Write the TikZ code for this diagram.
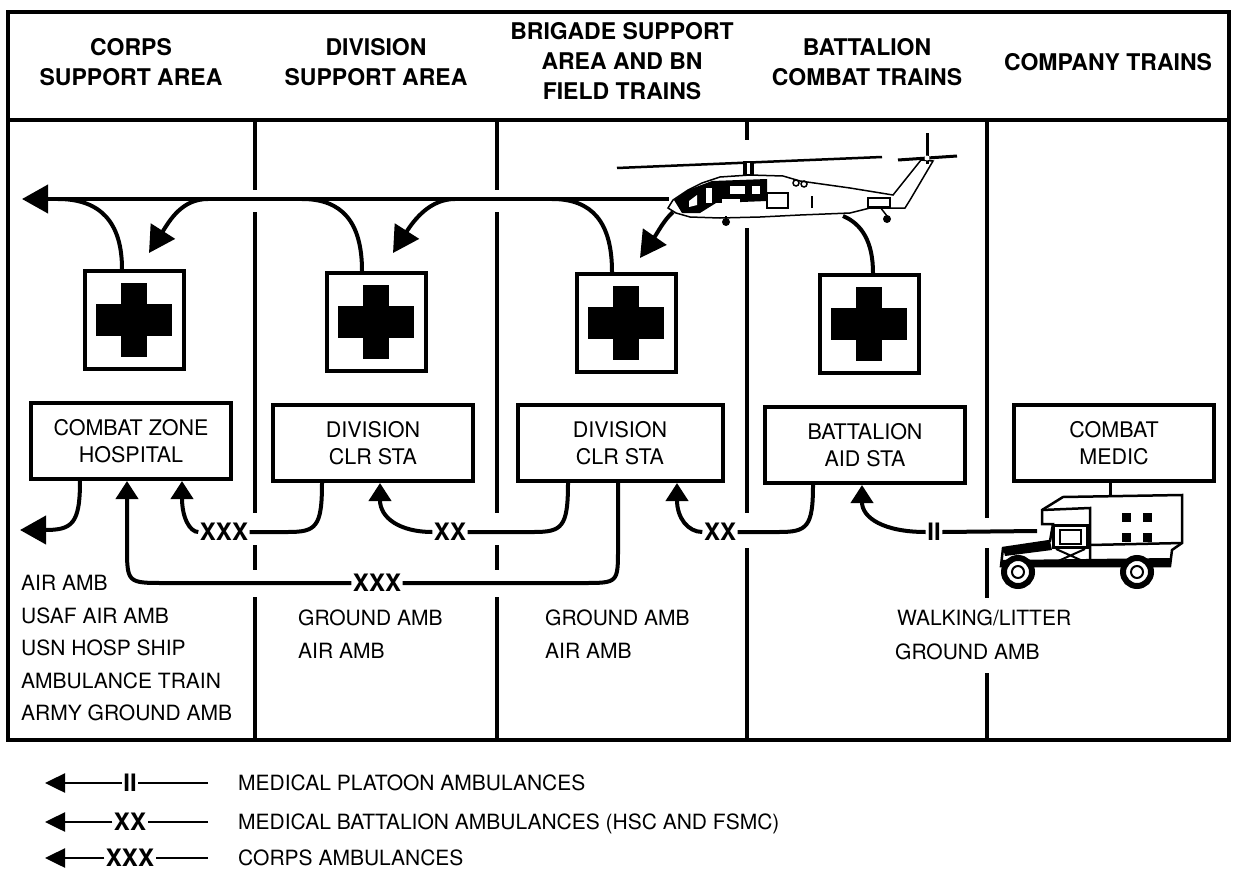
\documentclass[tikz,border=0pt]{standalone}
\usepackage{fontspec}
\setmainfont{TeX Gyre Heros}
\usetikzlibrary{arrows.meta}

\begin{document}
\begin{tikzpicture}[x=1pt, y=-1pt, line join=miter,
    conn/.style={line width=4pt},
    bigtip/.style={-{Triangle[length=26pt,width=28pt]}},
    boxtip/.style={-{Triangle[length=18pt,width=22pt]}},
    divline/.style={line width=3.5pt},
    crossbox/.style={draw, line width=4pt, minimum width=99pt, minimum height=98pt, inner sep=0pt},
    stabox/.style={draw, line width=4pt, minimum width=200pt, minimum height=76pt, inner sep=0pt, align=center, font=\fontsize{21.5}{27}\selectfont},
    area/.style={align=center, font=\fontsize{23}{30}\selectfont\bfseries},
    amb/.style={inner sep=1.5pt, font=\fontsize{24}{24}\selectfont\bfseries},
    means/.style={anchor=base west, inner sep=0pt, font=\fontsize{21}{21}\selectfont}]
    \useasboundingbox (0,0) rectangle (1233,872);

    % frame and columns
    \draw[line width=4pt] (8,12) rectangle (1229,740);
    \draw[line width=4pt] (8,120) -- (1229,120);
    \foreach \x/\a/\b in {255/120/190, 255/212/513, 255/545/570, 255/597/740,
                          497/120/190, 497/212/513, 497/545/570, 497/597/740,
                          747/120/140, 747/228/513, 747/548/740,
                          987/120/518, 987/548/598, 987/673/740}
        \draw[divline] (\x,\a) -- (\x,\b);

    \node[area] (hdCorps) at (131,62) {CORPS\\SUPPORT AREA};
    \node[area] (hdDiv) at (376,62) {DIVISION\\SUPPORT AREA};
    \node[area] (hdBde) at (622,61) {BRIGADE SUPPORT\\AREA AND BN\\FIELD TRAINS};
    \node[area] (hdBn) at (867,62) {BATTALION\\COMBAT TRAINS};
    \node[area] (hdCo) at (1108,62) {COMPANY TRAINS};

    % treatment facilities
    \node[crossbox] (crossCorps) at (134,320) {};
    \node[crossbox] (crossDiv) at (376,322) {};
    \node[crossbox] (crossBde) at (626,323) {};
    \node[crossbox] (crossBn) at (869,324) {};
    \foreach \c in {crossCorps, crossDiv, crossBde, crossBn} {
        \fill ([shift={(-38,-16)}]\c.center) rectangle ([shift={(38,16)}]\c.center);
        \fill ([shift={(-13,-37)}]\c.center) rectangle ([shift={(13,37)}]\c.center);
    }

    \node[stabox] (hosp) at (131,441) {COMBAT ZONE\\HOSPITAL};
    \node[stabox] (clrDiv) at (373,443) {DIVISION\\CLR STA};
    \node[stabox, minimum width=205pt] (clrBde) at (620,443) {DIVISION\\CLR STA};
    \node[stabox] (aidBn) at (865,445) {BATTALION\\AID STA};
    \node[stabox] (medic) at (1114,443) {COMBAT\\MEDIC};

    % air evacuation
    \coordinate (heliNose) at (669,199);
    \coordinate (heliBelly) at (673,212);
    \coordinate (heliTail) at (843,216);
    \coordinate (airEnd) at (22,199);
    \coordinate (upCorps) at (58,199);
    \coordinate (upDiv) at (302,199);
    \coordinate (upBde) at (552,199);
    \coordinate (dnCorps) at (208,199);
    \coordinate (dnDiv) at (455,199);
    \coordinate (inCorps) at (149,253);
    \coordinate (inDiv) at (393,253);
    \coordinate (inBde) at (640,258);

    \draw[conn, bigtip] (heliNose) -- (airEnd);
    \draw[conn] ([xshift=-12pt]crossCorps.north) .. controls (122,222) and (100,199) .. (upCorps);
    \draw[conn] ([xshift=-14pt]crossDiv.north) .. controls (362,222) and (342,199) .. (upDiv);
    \draw[conn] ([xshift=-14pt]crossBde.north) .. controls (612,222) and (592,199) .. (upBde);
    \draw[conn] ([xshift=4pt]crossBn.north) .. controls (873,242) and (862,224) .. (heliTail);
    \draw[conn, bigtip] (dnCorps) .. controls (182,199) and (170,220) .. (inCorps);
    \draw[conn, bigtip] (dnDiv) .. controls (430,199) and (414,220) .. (inDiv);
    \draw[conn, bigtip] (heliBelly) .. controls (664,220) and (658,232) .. (inBde);

    % helicopter
    \begin{scope}[line width=1.5pt]
        \draw[line width=2.5pt] (617,168) -- (882,157);
        \fill (743,161) rectangle (754,176);
        \fill[white] (747,163) rectangle (750,174);
        \filldraw[fill=white] (668,208) -- (673,200) -- (688,190) -- (702,183) -- (720,177) -- (750,175) -- (783,176)
            -- (800,181) -- (850,188) -- (893,195) -- (921,160) -- (933,161) -- (910,200) -- (905,208)
            -- (870,208) -- (850,213) -- (800,215) -- (760,217) -- (720,218) -- (690,217) -- (676,213) -- cycle;
        \fill (674,200) -- (688,190) -- (712,181) -- (767,179) -- (767,201) -- (716,203) -- (700,213) -- (682,213) -- cycle;
        \fill[white] (706,188) rectangle (712,203);
        \fill[white] (689,201) -- (697,195) -- (697,205) -- (689,207) -- cycle;
        \fill[white] (730,186) rectangle (745,194);
        \fill[white] (752,186) rectangle (760,194);
        \fill[white] (722,199) rectangle (740,205);
        \draw (767,193) rectangle (788,208);
        \draw (796,183) circle (3pt) (804,184) circle (3pt);
        \draw (812,208) -- (812,196);
        \draw (868,198) rectangle (890,207);
        \draw (726,216) -- (726,221);
        \fill (726,222) circle (4pt);
        \draw (880,207) -- (887,216);
        \fill (887,219) circle (4pt);
        \draw[line width=3pt] (927,133) -- (927,164);
        \draw[line width=3pt] (898,160) -- (957,156);
        \fill[white] (927,158) circle (2.5pt);
    \end{scope}

    % ground evacuation
    \coordinate (evacEnd) at (20,530);
    \coordinate (ambCab) at (1037,531);
    \coordinate (ambRoof) at (1110,496);
    \node[amb] (xxxA) at (224,532) {XXX};
    \node[amb] (xxxB) at (377,583) {XXX};
    \node[amb] (xxA) at (450,532) {XX};
    \node[amb] (xxB) at (720,532) {XX};
    \node[amb] (iiA) at (934,532) {II};

    \draw[conn, bigtip] ([xshift=-51pt]hosp.south) .. controls (80,524) and (72,530) .. (evacEnd);
    \draw[conn] ([xshift=-51pt]clrDiv.south) .. controls (322,527) and (316,532) .. (288,532) -- (xxxA.east);
    \draw[conn, boxtip] (xxxA.west) .. controls (190,532) and (182,518) .. ([xshift=51pt]hosp.south);
    \draw[conn] ([xshift=-2pt]clrBde.south) -- (618,548) .. controls (618,583) and (618,583) .. (583,583) -- (xxxB.east);
    \draw[conn, boxtip] (xxxB.west) -- (165,583) .. controls (127,583) and (127,583) .. (127,545) -- ([xshift=-4pt]hosp.south);
    \draw[conn] ([xshift=-52pt]clrBde.south) .. controls (568,527) and (562,532) .. (534,532) -- (xxA.east);
    \draw[conn, boxtip] (xxA.west) .. controls (400,532) and (380,518) .. ([xshift=7pt]clrDiv.south);
    \draw[conn] ([xshift=-52pt]aidBn.south) .. controls (813,527) and (807,532) .. (779,532) -- (xxB.east);
    \draw[conn, boxtip] (xxB.west) .. controls (688,532) and (677,518) .. ([xshift=57pt]clrBde.south);
    \draw[conn] (ambCab) -- (iiA.east);
    \draw[conn, boxtip] (iiA.west) .. controls (884,532) and (862,518) .. ([xshift=-3pt]aidBn.south);
    \draw[line width=3pt] ([xshift=-4pt]medic.south) -- (ambRoof);

    % ambulance
    \begin{scope}[line width=2.5pt]
        \filldraw[fill=white] (1001,566) -- (1003,548) -- (1050,541) -- (1053,524) -- (1042,524) -- (1042,510)
            -- (1063,497) -- (1182,495) -- (1182,543) -- (1172,550) -- (1170,566) -- cycle;
        \draw (1042,510) -- (1090,508) -- (1090,562);
        \draw (1090,545) -- (1182,543);
        \draw[line width=3pt] (1053,525) rectangle (1087,547);
        \draw[line width=2pt] (1060,530) rectangle (1081,544);
        \fill (1003,548) -- (1050,541) -- (1052,550) -- (1005,556) -- cycle;
        \draw[line width=2pt] (1056,549) -- (1085,562) (1056,562) -- (1085,549);
        \fill (1001,560) -- (1170,558) -- (1170,566) -- (1001,567) -- cycle;
        \foreach \sx/\sy in {1122/513, 1143/513, 1122/533, 1143/533}
            \fill (\sx,\sy) rectangle ++(9,9);
        \foreach \w in {1018,1137} {
            \filldraw[fill=white, line width=6pt] (\w,572) circle (14pt);
            \draw[line width=2pt] (\w,572) circle (6pt);
        }
    \end{scope}

    % means of evacuation
    \foreach \t [count=\i] in {AIR AMB, USAF AIR AMB, USN HOSP SHIP, AMBULANCE TRAIN, ARMY GROUND AMB}
        \node[means] (corpsMeans\i) at (21,558+32.5*\i) {\t};
    \node[means] (divMeans1) at (298,625.5) {GROUND AMB};
    \node[means] (divMeans2) at (298,658) {AIR AMB};
    \node[means] (bdeMeans1) at (545,625.5) {GROUND AMB};
    \node[means] (bdeMeans2) at (545,658) {AIR AMB};
    \node[means] (bnMeans1) at (897,625.5) {WALKING/LITTER};
    \node[means] (bnMeans2) at (895,659) {GROUND AMB};

    % legend
    \foreach \y/\tag/\txt [count=\i] in {783/II/{MEDICAL PLATOON AMBULANCES},
                                         822/XX/{MEDICAL BATTALION AMBULANCES (HSC AND FSMC)},
                                         858/XXX/{CORPS AMBULANCES}} {
        \node[amb] (key\i) at (130,\y) {\tag};
        \coordinate (keyEnd\i) at (208,\y);
        \coordinate (keyTip\i) at (45,\y);
        \draw[line width=2.5pt] (keyEnd\i) -- (key\i.east);
        \draw[line width=2.5pt, -{Triangle[length=20pt,width=19pt]}] (key\i.west) -- (keyTip\i);
        \node[means] (keyTxt\i) at (238,\y+7.5) {\txt};
    }
\end{tikzpicture}
\end{document}
